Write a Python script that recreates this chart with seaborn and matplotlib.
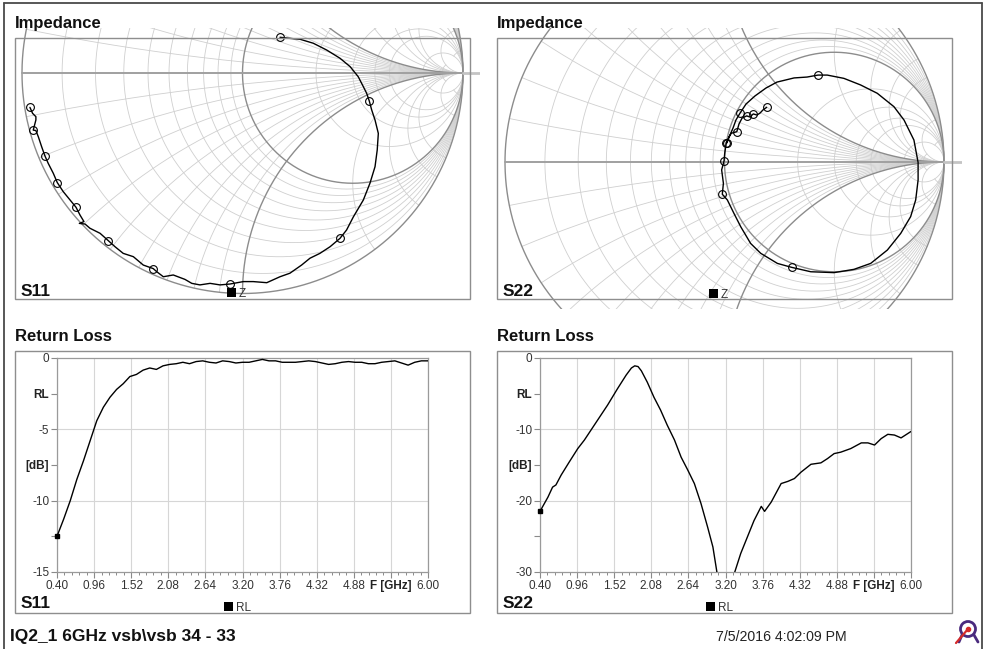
import numpy as np
import matplotlib
matplotlib.use("Agg")
import matplotlib.pyplot as plt
from matplotlib.patches import Rectangle, Circle
from matplotlib.lines import Line2D
import seaborn as sns

# ---------------------------------------------------------------- data
# Return loss, S11 (dB) on a 0.1 GHz grid from 0.40 to 6.00 GHz
s11_freq = [0.4, 0.5, 0.6, 0.7, 0.8, 0.9, 1.0, 1.1, 1.2, 1.3, 1.4, 1.5, 1.6, 1.7,
            1.8, 1.9, 2.0, 2.1, 2.2, 2.3, 2.4, 2.5, 2.6, 2.7, 2.8, 2.9, 3.0, 3.1,
            3.2, 3.3, 3.4, 3.5, 3.6, 3.7, 3.8, 3.9, 4.0, 4.1, 4.2, 4.3, 4.4, 4.5,
            4.6, 4.7, 4.8, 4.9, 5.0, 5.1, 5.2, 5.3, 5.4, 5.5, 5.6, 5.7, 5.8, 5.9, 6.0]
s11_rl = [-12.5, -11.3, -10.0, -8.5, -7.2, -5.8, -4.4, -3.45, -2.75, -2.2, -1.8,
          -1.3, -1.15, -0.85, -0.7, -0.8, -0.55, -0.45, -0.4, -0.3, -0.4, -0.25,
          -0.2, -0.3, -0.35, -0.2, -0.25, -0.35, -0.3, -0.3, -0.2, -0.1, -0.2,
          -0.2, -0.3, -0.3, -0.3, -0.25, -0.2, -0.25, -0.35, -0.45, -0.4, -0.3,
          -0.25, -0.3, -0.3, -0.4, -0.4, -0.3, -0.25, -0.2, -0.35, -0.5, -0.3,
          -0.2, -0.2]

# Return loss, S22 (dB)
s22_freq = [0.40, 0.52, 0.59, 0.64, 0.72, 0.84, 0.97, 1.07, 1.17, 1.27, 1.42, 1.57,
            1.70, 1.78, 1.83, 1.88, 1.93, 2.02, 2.12, 2.22, 2.32, 2.43, 2.53, 2.63,
            2.73, 2.83, 2.93, 3.01, 3.07, 3.15, 3.22, 3.28, 3.34, 3.43, 3.53, 3.63,
            3.74, 3.79, 3.89, 4.04, 4.14, 4.24, 4.34, 4.49, 4.64, 4.74, 4.84, 4.94,
            5.09, 5.25, 5.35, 5.45, 5.55, 5.65, 5.75, 5.85, 6.00]
s22_rl = [-21.5, -19.5, -18.1, -17.8, -16.4, -14.6, -12.7, -11.5, -10.1, -8.7, -6.6,
          -4.3, -2.4, -1.4, -1.1, -1.2, -1.8, -3.4, -5.5, -7.3, -9.4, -11.5, -13.9,
          -15.7, -17.6, -20.4, -23.7, -26.5, -30.0, -36.0, -40.0, -35.0, -30.0,
          -27.4, -25.1, -22.8, -20.8, -21.5, -20.2, -17.6, -17.3, -16.9, -16.0,
          -14.9, -14.7, -14.1, -13.4, -13.2, -12.7, -11.9, -11.9, -12.2, -11.3,
          -10.7, -10.8, -11.2, -10.3]

# Reflection coefficient traces (real, imaginary)
s11_re = [0.170, 0.215, 0.261, 0.321, 0.382, 0.442, 0.488, 0.525, 0.548, 0.563,
          0.575, 0.586, 0.601, 0.616, 0.611, 0.601, 0.578, 0.548, 0.503, 0.472,
          0.442, 0.397, 0.351, 0.306, 0.268, 0.215, 0.170, 0.110, 0.049, 0.004,
          -0.057, -0.102, -0.147, -0.193, -0.230, -0.261, -0.314, -0.359, -0.389,
          -0.405, -0.450, -0.495, -0.541, -0.578, -0.609, -0.646, -0.692, -0.714,
          -0.740, -0.719, -0.737, -0.755, -0.782, -0.813, -0.840, -0.858, -0.881,
          -0.896, -0.911, -0.926, -0.937, -0.949, -0.937, -0.937, -0.952, -0.964]
s11_im = [0.162, 0.157, 0.153, 0.135, 0.104, 0.067, 0.029, -0.017, -0.062, -0.092,
          -0.127, -0.168, -0.213, -0.274, -0.349, -0.425, -0.500, -0.576, -0.652,
          -0.712, -0.750, -0.788, -0.818, -0.840, -0.871, -0.908, -0.924, -0.951,
          -0.946, -0.946, -0.957, -0.961, -0.954, -0.961, -0.954, -0.936, -0.916,
          -0.924, -0.901, -0.887, -0.871, -0.833, -0.818, -0.788, -0.760, -0.727,
          -0.704, -0.685, -0.682, -0.674, -0.644, -0.609, -0.576, -0.538, -0.497,
          -0.455, -0.410, -0.376, -0.334, -0.289, -0.261, -0.259, -0.213, -0.198,
          -0.183, -0.156]
s11_marks = [0, 10, 20, 30, 39, 44, 51, 54, 57, 61, 65]

s22_re = [0.011, 0.021, 0.039, 0.052, 0.071, 0.098, 0.139, 0.189, 0.239, 0.317,
          0.376, 0.426, 0.468, 0.544, 0.620, 0.696, 0.772, 0.818, 0.863, 0.882,
          0.882, 0.871, 0.848, 0.803, 0.742, 0.666, 0.590, 0.499, 0.393, 0.306,
          0.241, 0.165, 0.119, 0.074, 0.043, 0.013, -0.010, -0.005, -0.013, -0.002,
          0.001, 0.008, 0.021, 0.031, 0.056, 0.066, 0.080, 0.101, 0.116, 0.131,
          0.148, 0.162, 0.175, 0.192]
s22_im = [0.087, 0.114, 0.155, 0.191, 0.223, 0.264, 0.301, 0.337, 0.364, 0.383,
          0.387, 0.396, 0.396, 0.381, 0.351, 0.313, 0.252, 0.191, 0.100, -0.002,
          -0.082, -0.173, -0.249, -0.325, -0.401, -0.462, -0.489, -0.504, -0.500,
          -0.480, -0.462, -0.416, -0.371, -0.295, -0.234, -0.173, -0.147, -0.097,
          -0.036, 0.005, 0.040, 0.088, 0.115, 0.131, 0.138, 0.173, 0.200, 0.210,
          0.205, 0.219, 0.214, 0.223, 0.237, 0.249]
s22_marks = [0, 4, 11, 29, 36, 39, 41, 44, 47, 49, 53]

# Axis ticks
x_ticks = [0.40, 0.96, 1.52, 2.08, 2.64, 3.20, 3.76, 4.32, 4.88, 5.44, 6.00]
x_labels = ["0.40", "0.96", "1.52", "2.08", "2.64", "3.20", "3.76", "4.32",
            "4.88", "F [GHz]", "6.00"]
s11_yticks = [0, -2.5, -5, -7.5, -10, -12.5, -15]
s11_ylabels = ["0", "RL", "-5", "[dB]", "-10", "", "-15"]
s11_ygrid = [-5, -10]
s22_yticks = [0, -5, -10, -15, -20, -25, -30]
s22_ylabels = ["0", "RL", "-10", "[dB]", "-20", "", "-30"]
s22_ygrid = [-10, -20]

# Smith chart grid values
r_light = [0.1, 0.2, 0.3, 0.4, 0.5, 0.6, 0.7, 0.8, 0.9, 2, 3, 4, 5, 10, 20]
x_light = [0.1, 0.2, 0.3, 0.4, 0.5, 0.6, 0.7, 0.8, 0.9, 2, 3, 4, 5, 10, 20]

# ---------------------------------------------------------------- style
sns.set_theme(style="white")
plt.rcParams["font.family"] = ["Liberation Sans", "DejaVu Sans"]

W, H = 988, 649
fig = plt.figure(figsize=(W / 100, H / 100), dpi=100)
fig.patch.set_facecolor("white")

LIGHT = "#cfcfcf"
DARK = "#8c8c8c"
BOX = "#8e8e8e"
TXT = "#333333"


def fx(x):
    return x / W


def fy(y):
    return 1 - y / H


def gamma(z):
    return (z - 1) / (z + 1)


def smith_axes(left, top, right, bottom, cx, cy, R):
    ax = fig.add_axes([fx(left), fy(bottom), (right - left) / W, (bottom - top) / H])
    ax.set_xlim((left - cx) / R, (right - cx) / R)
    ax.set_ylim((cy - bottom) / R, (cy - top) / R)
    ax.axis("off")
    ax.patch.set_alpha(0)

    s = np.linspace(0, np.pi / 2, 700, endpoint=False)
    ray = np.tan(s)
    both = np.concatenate([-ray[::-1], ray])
    for r in r_light:
        xs = both if r < 20 else np.linspace(-10, 10, 400)
        g = gamma(r + 1j * xs)
        ax.plot(g.real, g.imag, color=LIGHT, lw=0.6, zorder=1)
    for xv in x_light:
        rs = ray if xv < 20 else np.linspace(0, 10, 400)
        for sgn in (1, -1):
            g = gamma(rs + 1j * sgn * xv)
            ax.plot(g.real, g.imag, color=LIGHT, lw=0.6, zorder=1)
    # emphasised lines: unit circle, r = 1, x = +/-1, real axis
    t = np.linspace(0, 2 * np.pi, 800)
    ax.plot(np.cos(t), np.sin(t), color=DARK, lw=1.0, zorder=2)
    ax.plot(0.5 + 0.5 * np.cos(t), 0.5 * np.sin(t), color=DARK, lw=1.0, zorder=2)
    for sgn in (1, -1):
        g = gamma(ray + 1j * sgn)
        ax.plot(g.real, g.imag, color=DARK, lw=1.0, zorder=2)
    ax.plot([-1, 1], [0, 0], color="#a0a0a0", lw=1.4, zorder=2)
    ax.plot([1, 1.2], [0, 0], color="#c4c4c4", lw=2.0, zorder=2)
    return ax


def smith_trace(ax, re, im, marks):
    sns.lineplot(x=re, y=im, sort=False, estimator=None, ax=ax,
                 color="black", linewidth=1.0, zorder=4)
    ax.plot([re[i] for i in marks], [im[i] for i in marks], linestyle="none",
            marker="o", ms=5.6, mfc="none", mec="black", mew=0.8, zorder=5)


def rl_axes(left, right, freq, rl, yticks, ylabels, ygrid):
    top, bottom = 358, 572
    ax = fig.add_axes([fx(left), fy(bottom), (right - left) / W, (bottom - top) / H])
    ax.set_facecolor("white")
    for xv in x_ticks:
        ax.axvline(xv, color="#d6d6d6", lw=0.8, zorder=0)
    for yv in ygrid:
        ax.axhline(yv, color="#d6d6d6", lw=0.8, zorder=0)
    sns.lineplot(x=freq, y=rl, ax=ax, color="black", linewidth=1.0, zorder=3)
    ax.plot([freq[0]], [rl[0]], marker="s", ms=3.2, color="black",
            clip_on=False, zorder=6)
    ax.set_xlim(x_ticks[0], x_ticks[-1])
    ax.set_ylim(yticks[-1], yticks[0])
    ax.set_xticks(x_ticks)
    ax.set_xticklabels(x_labels)
    minor = []
    for a, b in zip(x_ticks[:-1], x_ticks[1:]):
        minor.extend(np.linspace(a, b, 6)[1:-1])
    ax.set_xticks(minor, minor=True)
    ax.set_yticks(yticks)
    ax.set_yticklabels(ylabels)
    ax.set_xlabel("")
    ax.set_ylabel("")
    ax.tick_params(axis="both", which="major", direction="out", length=4,
                   width=0.8, color="#8a8a8a", labelsize=8.5, labelcolor=TXT, pad=1.5)
    ax.tick_params(axis="x", which="minor", direction="out", length=2,
                   width=0.7, color="#8a8a8a")
    ax.tick_params(bottom=True, left=True, which="both")
    for lbl in ax.get_yticklabels() + ax.get_xticklabels():
        if lbl.get_text() in ("RL", "[dB]", "F [GHz]"):
            lbl.set_fontweight("bold")
            lbl.set_color("#222222")
    for sp in ax.spines.values():
        sp.set_color("#9a9a9a")
        sp.set_linewidth(0.9)
    return ax


# ---------------------------------------------------------------- Smith charts
ax_s11 = smith_axes(5, 28, 480, 309, 242.5, 73.0, 220.5)
smith_trace(ax_s11, s11_re, s11_im, s11_marks)

ax_s22 = smith_axes(487, 28, 962, 309, 724.5, 162.0, 219.5)
smith_trace(ax_s22, s22_re, s22_im, s22_marks)

# ---------------------------------------------------------------- return loss
rl_axes(57, 428, s11_freq, s11_rl, s11_yticks, s11_ylabels, s11_ygrid)
rl_axes(540, 911, s22_freq, s22_rl, s22_yticks, s22_ylabels, s22_ygrid)

# ---------------------------------------------------------------- frames and labels
for (l, t, r, b) in [(15, 38, 470, 299), (497, 38, 952, 299),
                     (15, 351, 470, 613), (497, 351, 952, 613)]:
    fig.add_artist(Rectangle((fx(l), fy(b)), (r - l) / W, (b - t) / H,
                             fill=False, edgecolor=BOX, lw=1.0, zorder=10))

for x0, y0, txt in [(15, 28, "Impedance"), (497, 28, "Impedance"),
                    (15, 341.5, "Return Loss"), (497, 341.5, "Return Loss")]:
    fig.text(fx(x0), fy(y0), txt, fontsize=12, fontweight="bold",
             color="#111111", va="baseline", ha="left")

for x0, y0, txt in [(21, 296, "S11"), (503, 296, "S22"),
                    (21, 608, "S11"), (503, 608, "S22")]:
    fig.text(fx(x0), fy(y0), txt, fontsize=12.5, fontweight="bold",
             color="#111111", va="baseline", ha="left", zorder=11)

for sx, sy, txt in [(227, 288, "Z"), (709, 289, "Z"), (224, 602, "RL"), (706, 602, "RL")]:
    fig.add_artist(Rectangle((fx(sx), fy(sy + 9)), 9 / W, 9 / H,
                             facecolor="black", edgecolor="none", zorder=11))
    fig.text(fx(sx + 12), fy(sy + 9), txt, fontsize=8.5, color=TXT,
             va="baseline", ha="left", zorder=11)

# footer
fig.text(fx(10), fy(641), "IQ2_1 6GHz vsb\\vsb 34 - 33", fontsize=12.5,
         fontweight="bold", color="#111111", va="baseline", ha="left")
fig.text(fx(716), fy(641), "7/5/2016 4:02:09 PM", fontsize=10.2,
         color="#222222", va="baseline", ha="left")

# logo
lax = fig.add_axes([fx(952), fy(646), 30 / W, 30 / H])
lax.set_xlim(0, 30)
lax.set_ylim(30, 0)
lax.axis("off")
lax.patch.set_alpha(0)
lax.add_patch(Circle((16, 13), 7.5, fill=False, edgecolor="#4a2a7e", lw=2.0))
lax.plot([10, 7], [19, 26], color="#4a2a7e", lw=2.0, solid_capstyle="round")
lax.plot([22, 26], [19, 26], color="#4a2a7e", lw=2.0, solid_capstyle="round")
lax.plot([4, 16], [27, 13], color="#d42a2a", lw=1.6, solid_capstyle="round")
lax.plot([16], [13], marker="o", ms=3, color="#d42a2a")

# outer border
for xs, ys in [([4, 4], [3, 649]), ([4, 982], [3, 3]), ([982, 982], [3, 649])]:
    fig.add_artist(Line2D([fx(v) for v in xs], [fy(v) for v in ys],
                          color="#4a4a4a", lw=1.3, zorder=12))

fig.savefig("out.png", dpi=100, facecolor="white")
